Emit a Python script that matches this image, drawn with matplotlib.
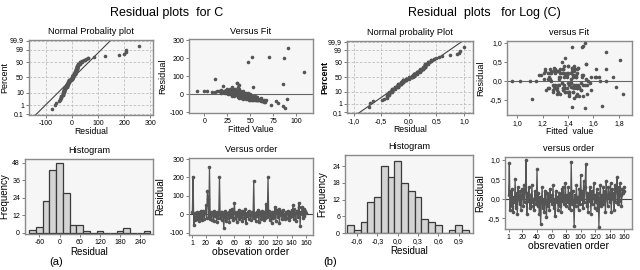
import numpy as np
import matplotlib
matplotlib.use('Agg')
import matplotlib.pyplot as plt
from statistics import NormalDist

plt.rcParams['font.family'] = ['Liberation Sans', 'DejaVu Sans']

# ---- data ----
# (a) residuals of C, in observation order
res_c = [10, 205, -60, 5, -30, -15, 10, -25, 5, -35,
         15, -20, 20, -10, -30, 20, 5, -25, 10, 48,
         -20, 125, 85, -15, 258, -25, 15, -30, 0, 10,
         -35, 20, -10, 5, -40, 15, -20, 0, 205, -20,
         10, -30, 15, -5, -75, -10, 20, -35, 0, 5,
         -20, 10, -40, 25, -15, 5, 30, -30, 10, 60,
         -20, 0, -40, 15, -10, 25, -25, 5, -15, 20,
         -35, 10, 0, -20, 30, -45, 5, -10, 15, -25,
         20, -5, -30, 10, 0, -15, 180, -20, 5, -35,
         15, -10, 25, -40, 0, 10, -25, 20, -10, 5,
         -30, 15, -20, 55, 10, -15, 200, -5, 20, -30,
         0, -45, 15, -20, 10, -10, 38, -35, 25, 5,
         -15, 30, -50, 20, -5, 10, -25, 25, -10, 0,
         -25, 15, -20, 5, 20, -30, 10, -15, 0, 25,
         -10, 50, -25, 30, 5, -35, 20, 10, -15, 62,
         40, -65, 15, 0, 40, -20, 30, -10, 20, 5]
fit_c = [12, 52, 72, 18, 50, 38, 8, 45, 22, 58,
         3, 40, -8, 32, 52, 14, 25, 42, 20, 20,
         44, 108, 12, 36, 91, 47, 16, 55, 26, 18,
         62, 0, 30, 24, 64, 22, 38, 28, 70, 46,
         27, 48, 30, 34, 88, 40, 33, 56, 35, 29,
         50, 24, 78, 18, 42, 31, 28, 53, 36, 35,
         47, 37, 61, 26, 43, 37, 51, 33, 45, 25,
         57, 39, 41, 49, 38, 65, 35, 46, 34, 52,
         29, 39, 59, 32, 44, 48, 47, 53, 38, 60,
         21, 43, 23, 63, 40, 34, 54, 31, 45, 36,
         57, 28, 50, 85, 30, 47, 87, 41, 27, 61,
         39, 66, 32, 55, 35, 49, 53, 62, 30, 42,
         51, 33, 80, 36, 44, 38, 58, 34, 52, 46,
         90, 37, 56, 43, 35, 65, 40, 54, 48, 27,
         50, 38, 60, 31, 45, 67, 39, 41, 57, 35,
         30, 85, 42, 50, 36, 62, 25, 55, 33, 47]
hist_c_centers = [-80, -60, -40, -20, 0, 20, 40, 60, 80, 100, 120, 140, 160, 180, 200, 220, 240, 260]
hist_c_counts = [2, 4, 22, 43, 48, 27, 5, 5, 1, 0, 1, 0, 0, 1, 3, 0, 0, 1]

# (b) residuals of Log(C), in observation order
res_l = [0.1, 0.9, -0.3, 0.2, -0.2, 0.25, -0.35, 0.05, -0.1, 0.5,
         -0.25, 0.15, -0.4, 0.3, 0.0, -0.15, 0.2, -0.3, 0.1, 0.25,
         -0.2, 0.35, -0.1, 0.2, 1.0, -0.4, 0.15, -0.05, 0.3, -0.25,
         0.1, -0.2, 0.35, -0.1, 0.0, -0.3, 0.2, 0.1, -0.15, 0.75,
         -0.2, 0.15, -0.4, 0.05, -0.65, -0.1, 0.3, -0.25, 0.0, -0.35,
         0.2, -0.1, -0.48, 0.15, -0.2, 0.1, -0.3, 0.25, -0.05, 0.1,
         -0.15, 0.35, -0.25, 0.0, -0.45, 0.2, -0.1, 0.05, -0.3, 0.15,
         -0.2, 0.1, -0.35, 0.25, -0.05, 0.3, -0.15, 0.0, 0.4, -0.2,
         0.1, -0.1, 0.3, -0.25, 0.15, -0.3, 0.93, -0.15, 0.2, -0.05,
         -0.7, 0.1, -0.2, 0.35, -0.1, 0.05, -0.3, 0.25, -0.15, 0.6,
         0.0, 0.2, -0.25, 0.45, -0.1, 0.3, 0.88, -0.2, 0.15, -0.35,
         0.1, -0.05, 0.3, -0.4, 0.2, -0.15, 0.05, 0.4, -0.25, 0.1,
         -0.1, 0.25, -0.3, 0.15, -0.72, 0.0, 0.35, -0.2, 0.1, -0.15,
         0.3, -0.05, 0.2, -0.35, 0.45, 0.05, -0.2, 0.3, 0.1, -0.1,
         0.4, -0.35, 0.25, 0.0, 0.15, -0.3, 0.35, -0.1, 0.2, 0.55,
         -0.15, 0.3, -0.05, 0.4, 0.1, -0.2, 0.25, 0.15, 0.3, 0.2]
fit_l = [1.25, 1.43, 1.38, 1.30, 1.47, 1.22, 1.55, 1.33, 1.41, 1.35,
         1.28, 1.44, 1.52, 1.36, 0.96, 1.49, 1.27, 1.40, 1.58, 1.31,
         1.45, 1.29, 1.37, 1.21, 1.53, 1.46, 1.17, 1.42, 1.34, 1.50,
         1.39, 1.24, 1.43, 1.48, 1.02, 1.32, 1.26, 1.61, 1.44, 1.70,
         1.36, 1.19, 1.41, 1.54, 1.67, 1.30, 1.45, 1.23, 1.56, 1.47,
         1.40, 1.33, 1.12, 1.51, 1.38, 1.46, 1.28, 1.43, 1.35, 1.64,
         1.42, 1.48, 1.31, 1.15, 1.45, 1.37, 1.52, 1.26, 1.44, 1.39,
         1.49, 1.34, 1.41, 1.27, 1.57, 1.36, 1.43, 1.70, 1.40, 1.25,
         1.46, 1.32, 1.22, 1.50, 1.38, 1.44, 1.52, 1.29, 1.47, 1.35,
         1.43, 1.62, 1.30, 1.45, 1.53, 1.24, 1.41, 1.33, 1.48, 1.38,
         1.10, 1.42, 1.36, 1.54, 1.28, 1.47, 1.51, 1.39, 1.44, 1.31,
         1.75, 1.40, 1.26, 1.49, 1.35, 1.43, 1.21, 1.45, 1.58, 1.37,
         1.46, 1.32, 1.41, 1.52, 1.53, 1.27, 1.48, 1.36, 1.44, 1.78,
         1.30, 1.50, 1.39, 1.34, 1.54, 1.42, 1.47, 1.70, 1.33, 1.45,
         1.40, 1.83, 1.29, 1.65, 1.46, 1.38, 1.43, 1.55, 1.24, 1.81,
         1.48, 1.36, 1.42, 1.37, 1.51, 1.31, 1.45, 1.39, 1.62, 1.34]
hist_l_centers = [-0.7, -0.6, -0.5, -0.4, -0.3, -0.2, -0.1, 0.0, 0.1, 0.2, 0.3, 0.4, 0.5, 0.6, 0.7, 0.8, 0.9, 1.0]
hist_l_counts = [3, 1, 4, 11, 13, 24, 20, 26, 18, 15, 13, 5, 4, 3, 0, 1, 3, 1]

pct_ticks = [0.1, 1, 10, 50, 90, 99, 99.9]

# ---- styling ----
BG = '#f6f6f6'
FRAME = '#8a8a8a'
DOT = '#555555'
TS = 5       # tick label size
HS = 6.6     # panel title size

nd = NormalDist()


def frame(ax):
    ax.set_facecolor(BG)
    for s in ax.spines.values():
        s.set_color(FRAME)
        s.set_linewidth(1.0)
    ax.tick_params(labelsize=TS, length=2, width=0.6, color='#666666', pad=1.5)


def prob_panel(ax, res, title, xt, xtl, xlim, pct_labels, ylx):
    frame(ax)
    r = np.sort(np.array(res))
    n = len(r)
    z = [nd.inv_cdf((i + 1 - 0.3) / (n + 0.4)) for i in range(n)]
    m = np.mean(r)
    s = np.std(r, ddof=1)
    zz = np.array([-4.0, 4.0])
    ax.plot(m + s * zz, zz, color='#444444', lw=0.8, zorder=2)
    ax.plot(r, z, 'o', color=DOT, ms=2.6, mec='none', zorder=3)
    ax.set_yticks([nd.inv_cdf(p / 100) for p in pct_ticks])
    ax.set_yticklabels(pct_labels)
    ax.set_xticks(xt)
    ax.set_xticklabels(xtl)
    ax.set_ylim(-3.15, 3.15)
    ax.set_xlim(*xlim)
    ax.grid(True, ls=(0, (3, 2)), color='#bdbdbd', lw=0.6)
    ax.set_axisbelow(True)
    ax.set_title(title, fontsize=HS, pad=4)
    ax.set_xlabel('Residual', fontsize=6.2, labelpad=0)
    ax.set_ylabel('Percent', fontsize=6.5)
    ax.yaxis.set_label_coords(ylx, 0.5)


def fit_panel(ax, fit, res, title, xlabel, xt, xtl, xlim, yt, ytl, ylim, ylx):
    frame(ax)
    ax.axhline(0, color='#666666', lw=0.8, zorder=2)
    ax.plot(fit, res, 'o', color=DOT, ms=2.6, mec='none', zorder=3)
    ax.set_xticks(xt)
    ax.set_xticklabels(xtl)
    ax.set_yticks(yt)
    ax.set_yticklabels(ytl)
    ax.set_xlim(*xlim)
    ax.set_ylim(*ylim)
    ax.set_title(title, fontsize=HS, pad=4)
    ax.set_xlabel(xlabel, fontsize=6.2, labelpad=0)
    ax.set_ylabel('Residual', fontsize=6.5)
    ax.yaxis.set_label_coords(ylx, 0.5)


def hist_panel(ax, centers, counts, width, xt, xtl, xlim, yt, ylim, ylx):
    frame(ax)
    ax.bar(centers, counts, width=width, color='#d4d4d4', edgecolor='#3a3a3a', linewidth=0.9, zorder=2)
    ax.set_xticks(xt)
    ax.set_xticklabels(xtl)
    ax.set_yticks(yt)
    ax.set_xlim(*xlim)
    ax.set_ylim(*ylim)
    ax.set_title('Histogram', fontsize=HS, pad=4)
    ax.set_xlabel('Residual', fontsize=7, labelpad=1)
    ax.set_ylabel('Frequency', fontsize=7)
    ax.yaxis.set_label_coords(ylx, 0.5)


def order_panel(ax, res, xlabel, yt, ytl, ylim, title, ylx):
    frame(ax)
    obs = np.arange(1, len(res) + 1)
    ax.axhline(0, color='#444444', lw=0.8, zorder=2)
    ax.plot(obs, res, '-', color='#555555', lw=0.9, zorder=3)
    ax.plot(obs, res, 'o', color=DOT, ms=2.6, mec='none', zorder=4)
    ax.set_xticks([1, 20, 40, 60, 80, 100, 120, 140, 160])
    ax.set_yticks(yt)
    ax.set_yticklabels(ytl)
    ax.set_xlim(-4, 170)
    ax.set_ylim(*ylim)
    ax.set_title(title, fontsize=HS, pad=4)
    ax.set_xlabel(xlabel, fontsize=7.5, labelpad=0)
    ax.set_ylabel('Residual', fontsize=7)
    ax.yaxis.set_label_coords(ylx, 0.5)


fig = plt.figure(figsize=(6.4, 2.7), dpi=100)

ax1 = fig.add_axes([0.045, 0.574, 0.194, 0.278])
prob_panel(ax1, res_c, 'Normal Probality plot', [-100, 0, 100, 200, 300],
           ['-100', '0', '100', '200', '300'], (-165, 310),
           ['0.1', '1', '10', '50', '90', '99', '99.9'], -0.155)

ax2 = fig.add_axes([0.295, 0.581, 0.194, 0.274])
fit_panel(ax2, fit_c, res_c, 'Versus Fit', 'Fitted Value',
          [0, 25, 50, 75, 100], ['0', '25', '50', '75', '100'], (-17, 118),
          [-100, 0, 100, 200, 300], ['-100', '0', '100', '200', '300'], (-105, 305), -0.177)

ax3 = fig.add_axes([0.542, 0.581, 0.197, 0.267])
prob_panel(ax3, res_l, 'Normal probality Plot', [-1.0, -0.5, 0.0, 0.5, 1.0],
           ['-1,0', '-0,5', '0,0', '0,5', '1,0'], (-1.12, 1.16),
           ['0,1', '1', '10', '50', '90', '99', '99,9'], -0.135)
ax3.yaxis.label.set_fontweight('bold')

ax4 = fig.add_axes([0.792, 0.574, 0.195, 0.274])
fit_panel(ax4, fit_l, res_l, 'versus Fit', 'Fitted  value',
          [1.0, 1.2, 1.4, 1.6, 1.8], ['1,0', '1,2', '1,4', '1,6', '1,8'], (0.92, 1.9),
          [-0.5, 0.0, 0.5, 1.0], ['-0,5', '0,0', '0,5', '1,0'], (-0.9, 1.05), -0.176)

ax5 = fig.add_axes([0.039, 0.133, 0.2, 0.278])
hist_panel(ax5, hist_c_centers, hist_c_counts, 20, [-60, 0, 60, 120, 180, 240],
           ['-60', '0', '60', '120', '180', '240'], (-103, 278), [0, 12, 24, 36, 48], (-1, 50.5), -0.12)

ax6 = fig.add_axes([0.295, 0.13, 0.194, 0.285])
order_panel(ax6, res_c, 'obsevation order', [-100, 0, 100, 200, 300],
            ['-100', '0', '100', '200', '300'], (-112, 306), 'Versus order', -0.19)

ax7 = fig.add_axes([0.539, 0.137, 0.2, 0.289])
hist_panel(ax7, hist_l_centers, hist_l_counts, 0.1, [-0.6, -0.3, 0.0, 0.3, 0.6, 0.9],
           ['-0,6', '-0,3', '0,0', '0,3', '0,6', '0,9'], (-0.78, 1.11), [0, 6, 12, 18, 24], (0, 28), -0.14)

ax8 = fig.add_axes([0.789, 0.152, 0.198, 0.267])
order_panel(ax8, res_l, 'obsrevatien order', [-0.5, 0.0, 0.5, 1.0],
            ['-0,5', '0,0', '0,5', '1,0'], (-0.78, 1.07), 'versus order', -0.157)

fig.text(0.26, 0.952, 'Residual plots  for C', ha='center', va='center', fontsize=9)
fig.text(0.757, 0.952, 'Residual  plots   for Log (C)', ha='center', va='center', fontsize=9)
fig.text(0.087, 0.028, '(a)', ha='center', va='center', fontsize=8)
fig.text(0.516, 0.028, '(b)', ha='center', va='center', fontsize=8)

fig.savefig('out.png', dpi=100)
